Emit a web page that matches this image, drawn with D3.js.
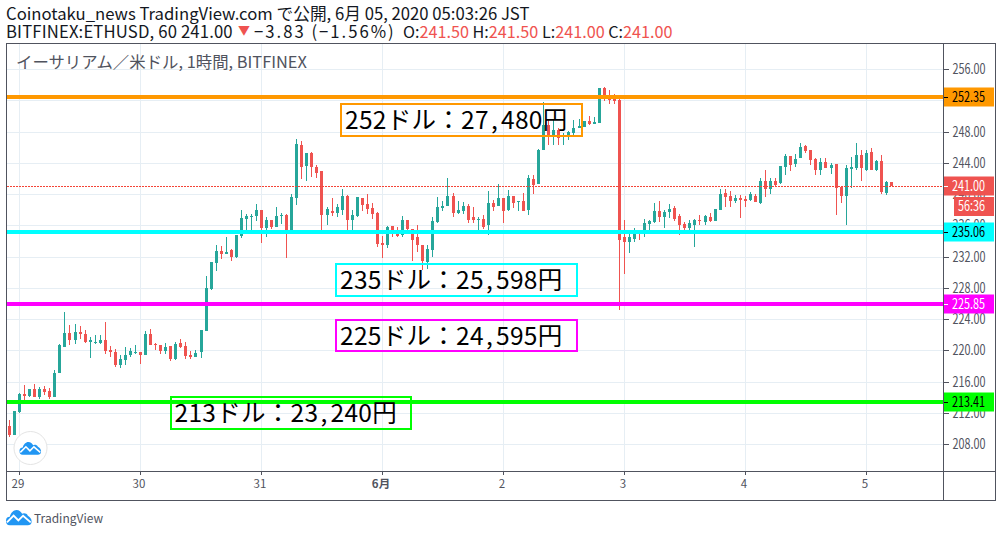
<!DOCTYPE html>
<html lang="ja"><head><meta charset="utf-8">
<script src="https://cdn.jsdelivr.net/npm/d3@7"></script>
<style>
html,body{margin:0;padding:0;background:#fff;overflow:hidden}
svg{display:block}
text{font-family:"Noto Sans CJK JP","Noto Sans",sans-serif}
</style></head><body><svg id="c" width="1002" height="537"></svg>
<script>
const opens=[210.30,209.14,212.09,214.40,214.14,215.04,214.01,215.04,214.78,214.01,
217.09,220.43,222.22,221.32,222.35,222.09,221.07,220.94,220.94,221.32,
220.04,219.78,218.12,218.76,219.40,219.65,219.78,219.40,222.09,220.81,
220.68,219.91,220.55,218.88,220.94,220.55,219.40,219.14,219.78,222.47,
227.86,231.19,232.73,232.35,232.86,231.96,234.65,236.83,237.09,237.22,
237.99,235.68,236.71,235.81,237.22,237.35,235.42,239.53,246.32,243.63,
245.30,243.50,242.99,237.35,237.86,237.60,237.99,239.78,236.71,237.22,
239.53,238.76,238.24,237.60,233.76,233.50,235.94,234.91,234.78,236.71,
235.55,234.53,233.50,231.32,232.86,236.45,238.24,238.50,239.78,237.60,
237.86,238.50,237.09,236.71,236.83,236.07,238.89,238.50,239.53,237.99,
239.78,239.01,239.14,237.99,241.96,241.32,245.68,248.89,247.60,248.24,
247.47,247.60,247.86,248.50,248.63,249.40,249.01,249.14,253.63,252.60,
252.35,252.09,234.53,233.88,234.27,235.30,234.91,236.19,236.45,237.86,
237.09,237.73,238.24,237.22,236.19,235.68,236.07,236.71,236.45,237.09,
236.58,237.99,240.17,239.78,239.14,239.53,239.40,239.27,239.78,238.89,
241.71,240.68,241.71,241.45,243.50,244.91,243.88,244.65,246.19,245.68,
244.53,243.12,244.14,243.37,243.88,240.94,239.78,243.24,243.37,245.04,
243.12,245.42,243.12,244.27,240.17,241.58];
const highs=[211.07,212.22,214.53,215.55,215.04,215.68,215.30,215.42,215.17,217.48,
220.81,224.91,223.24,223.37,223.12,222.60,221.71,221.96,221.96,223.63,
220.55,220.17,219.40,220.43,220.30,220.68,219.78,222.47,222.73,220.94,
220.68,220.94,220.55,221.07,221.45,221.07,219.91,220.04,222.60,229.53,
231.32,233.50,233.37,234.53,232.99,234.78,237.99,237.47,237.47,238.76,
237.99,237.09,236.71,238.37,237.60,237.47,240.04,247.09,246.83,245.30,
245.42,243.76,242.99,238.37,239.53,238.76,240.68,239.91,237.99,239.66,
239.53,240.04,238.89,237.73,234.65,235.94,235.94,235.81,237.22,236.71,
235.55,236.07,233.50,233.50,237.09,239.66,239.14,242.09,240.17,239.14,
239.01,238.76,238.37,237.09,237.35,240.42,239.27,241.32,239.53,240.55,
239.78,239.14,240.17,242.47,242.47,245.81,251.83,249.53,249.53,248.50,
247.86,248.11,249.53,249.65,249.40,250.04,249.91,253.63,253.76,253.37,
252.86,252.47,236.71,234.91,235.68,235.30,236.83,236.71,238.89,239.14,
237.99,238.76,238.50,237.47,236.45,236.71,236.83,237.35,237.35,237.60,
238.12,240.68,240.68,240.42,239.91,239.91,239.78,240.30,240.04,242.09,
243.12,242.09,242.09,243.63,245.17,244.91,245.17,246.58,246.32,245.68,
244.65,244.65,244.65,244.01,243.88,241.06,243.76,244.78,246.58,245.68,
245.68,245.93,244.40,245.04,241.71,241.58];
const lows=[208.89,209.14,211.96,213.63,214.01,214.01,213.76,214.27,213.76,214.01,
217.09,220.43,220.68,220.81,221.45,220.94,219.01,220.81,220.81,219.52,
219.14,217.86,217.73,218.12,219.14,219.52,218.25,219.40,220.68,220.04,
219.52,219.52,218.63,218.76,220.30,218.88,218.88,219.14,219.01,222.47,
227.73,230.17,231.71,232.35,231.45,231.83,234.40,234.91,235.30,236.58,
233.76,234.53,235.55,235.81,236.19,231.83,235.17,238.63,241.96,241.71,
242.22,242.09,235.04,236.07,237.22,237.09,237.35,235.42,235.42,237.09,
237.86,237.47,236.83,233.24,231.83,233.12,234.53,234.53,234.53,235.04,
231.45,232.60,230.30,230.42,231.96,236.32,237.86,238.50,237.09,237.47,
237.47,236.32,236.32,235.04,235.55,234.78,237.86,238.50,236.32,237.86,
238.24,237.86,237.86,237.35,240.04,241.32,245.68,246.32,246.32,246.32,
246.32,246.96,247.35,248.50,248.63,248.89,249.01,249.14,251.96,251.58,
251.58,225.17,229.78,232.47,233.88,234.14,234.53,234.91,236.32,236.45,
235.68,236.96,236.58,234.78,235.17,235.04,233.24,236.07,236.07,236.45,
236.58,237.99,238.37,238.37,238.89,236.96,238.37,239.14,239.01,238.76,
239.66,240.04,241.06,241.32,242.47,242.99,243.50,244.65,245.30,243.76,
242.47,242.47,243.37,242.60,237.35,238.89,236.07,240.81,243.12,241.71,
242.99,243.12,242.99,240.04,239.91,241.00];
const closes=[209.14,212.22,214.40,214.14,215.04,214.01,215.04,214.65,214.01,217.09,
220.68,222.22,221.32,222.35,222.09,221.07,221.32,221.07,221.32,219.91,
219.78,218.12,218.88,219.40,219.91,219.78,219.40,222.09,220.68,220.68,
219.91,220.43,218.88,220.81,220.43,219.27,219.14,219.65,222.60,227.99,
231.32,232.73,232.35,232.60,231.96,234.78,236.96,237.22,237.22,237.99,
235.68,236.71,235.81,237.22,237.35,235.42,239.66,246.45,243.50,245.30,
243.50,242.73,237.35,238.12,237.60,238.37,239.78,236.71,237.35,239.66,
238.63,238.12,237.47,233.63,233.50,235.81,235.04,234.65,236.71,235.55,
234.14,233.50,231.45,232.99,236.58,238.37,238.50,239.78,237.60,237.99,
238.50,236.71,236.71,236.83,235.81,238.89,238.37,239.53,237.86,239.78,
238.89,239.14,237.86,242.09,241.19,245.68,248.89,247.60,248.24,247.22,
247.60,247.99,248.50,248.76,249.40,249.01,249.27,253.63,252.47,252.09,
251.96,234.14,233.88,234.53,235.30,234.91,236.32,236.58,237.86,237.09,
237.73,238.12,236.83,236.07,235.68,236.32,236.71,236.58,237.22,236.58,
238.12,240.04,239.66,239.14,239.53,239.27,239.14,240.04,239.01,241.71,
240.68,241.71,241.19,243.63,244.91,243.76,244.53,246.06,245.55,244.40,
243.12,244.14,243.37,243.76,240.81,239.78,243.37,243.50,245.04,243.37,
245.30,243.12,244.27,240.30,241.58,241.00];

const priceTicks=[256,252,248,244,240,236,232,228,224,220,216,212,208];
const dayTicks=[2,26,50,74,98,122,146,170];
const dayLabels=["29","30","31","6月","2","3","4","5"];
const levelValues=[252.35,235.06,225.85,213.41];
const levelColors=["#ff9800","#00ffff","#ff00ff","#00ff00"];
const levelTextColors=["#000","#000","#fff","#000"];
const noteHeads=["252ドル：27","235ドル：25","225ドル：24","213ドル：23"];
const noteTails=["480円","598円","595円","240円"];
const lastPrice=241.00;

const TEAL="#26a69a",RED="#ef5350",GRID="#e6eef4",INK="#50535e";
const svg=d3.select("#c");
const L=7,R=943,T=44,B=471;
const y=d3.scaleLinear().domain([208,256]).range([444.2,69.2]);
const x=d3.scaleLinear().domain([0,175]).range([9.5,891.5]);
const px=i=>Math.floor(x(i));
const ry=v=>Math.round(y(v)-.35);
const crisp=g=>g.attr("shape-rendering","crispEdges");

// grid
const grid=svg.append("g").call(crisp);
grid.selectAll(".h").data(priceTicks).join("line").attr("x1",L).attr("x2",R)
 .attr("y1",d=>Math.round(y(d))+.5).attr("y2",d=>Math.round(y(d))+.5).attr("stroke",GRID);
grid.selectAll(".v").data(dayTicks).join("line").attr("y1",T).attr("y2",B)
 .attr("x1",d=>px(d)+.5).attr("x2",d=>px(d)+.5).attr("stroke",GRID);

// title inside chart
svg.append("text").attr("x",16).attr("y",67.5).attr("font-size",16.4).attr("fill",INK)
 .text("イーサリアム／米ドル, 1時間, BITFINEX");

// candles
const idx=d3.range(opens.length);
const col=i=>closes[i]>=opens[i]?TEAL:RED;
const cg=svg.append("g").call(crisp);
cg.selectAll(".w").data(idx).join("rect").attr("x",px).attr("width",1)
 .attr("y",i=>y(highs[i])).attr("height",i=>Math.max(1,y(lows[i])-y(highs[i]))).attr("fill",col);
cg.selectAll(".b").data(idx).join("rect").attr("x",i=>px(i)-1).attr("width",3)
 .attr("y",i=>y(Math.max(opens[i],closes[i])))
 .attr("height",i=>Math.max(1,Math.abs(opens[i]-closes[i])*(y(0)-y(1)))).attr("fill",col);

// last price line
svg.append("line").attr("x1",L).attr("x2",R).attr("y1",ry(lastPrice)+.5).attr("y2",ry(lastPrice)+.5)
 .attr("stroke","#f44336").attr("stroke-dasharray","2 1").attr("shape-rendering","crispEdges");

// levels
svg.append("g").call(crisp).selectAll("rect").data(levelValues).join("rect")
 .attr("x",L).attr("width",R-L).attr("height",4).attr("y",d=>ry(d)-2)
 .attr("fill",(d,i)=>levelColors[i]);

// note boxes
const noteBoxes=[[341,104,241,32],[336,264,241,32],[336,320,241,31],[170.5,397,240,32]];
const notes=svg.append("g");
noteBoxes.forEach((b,i)=>{
 notes.append("rect").attr("x",b[0]).attr("y",b[1]).attr("width",b[2]).attr("height",b[3])
  .attr("fill","none").attr("stroke",levelColors[i]).attr("stroke-width",2).attr("shape-rendering","crispEdges");
 const t=notes.append("text").attr("x",b[0]+4).attr("y",b[1]+25).attr("font-size",24.5).attr("letter-spacing",.3).attr("fill","#000");
 t.append("tspan").text(noteHeads[i]);
 t.append("tspan").attr("dx",2).text(",");
 t.append("tspan").attr("dx",3).text(noteTails[i]);
});

// axes
const ya=d3.axisRight(y).tickValues(priceTicks).tickFormat(d3.format(".2f")).tickSize(5).tickPadding(4);
const yg=svg.append("g").attr("transform",`translate(${R+.5},0)`).call(ya);
yg.select(".domain").remove();
yg.selectAll("line").attr("stroke",INK).attr("shape-rendering","crispEdges");
yg.selectAll("text").attr("fill",INK).attr("font-size",14)
 .attr("textLength",33).attr("lengthAdjust","spacingAndGlyphs");
const xa=d3.axisBottom(x).tickValues(dayTicks).tickFormat((d,i)=>dayLabels[i]).tickSize(4).tickPadding(5);
const xg=svg.append("g").attr("transform",`translate(0,${B})`).call(xa);
xg.select(".domain").remove();
xg.selectAll(".tick").attr("transform","translate(0,0)");
xg.selectAll("line").attr("stroke",INK).attr("x1",d=>px(d)+.5).attr("x2",d=>px(d)+.5).attr("shape-rendering","crispEdges");
xg.selectAll("text").attr("fill",INK).attr("font-size",11.5).attr("x",d=>px(d)-1)
 .attr("font-weight",(d,i)=>dayLabels[i]==="6月"?700:400);

// frame
const fr=svg.append("g").call(crisp).attr("stroke",INK).attr("fill","none");
fr.append("rect").attr("x",6.5).attr("y",43.5).attr("width",989).attr("height",457);
fr.append("line").attr("x1",6.5).attr("x2",995.5).attr("y1",B+.5).attr("y2",B+.5);
fr.append("line").attr("x1",R+.5).attr("x2",R+.5).attr("y1",43.5).attr("y2",500.5);

// price labels
const tag=(v,fill,tc)=>{
 const c=ry(v);
 svg.append("rect").attr("x",R+1).attr("width",50).attr("y",c-9.5).attr("height",19).attr("fill",fill);
 svg.append("line").attr("x1",R+1).attr("x2",R+5).attr("y1",c+.5).attr("y2",c+.5).attr("stroke",tc).attr("shape-rendering","crispEdges");
 svg.append("text").attr("x",R+9).attr("y",c+5).attr("font-size",14).attr("fill",tc)
  .attr("textLength",33).attr("lengthAdjust","spacingAndGlyphs").text(d3.format(".2f")(v));
};
tag(lastPrice,RED,"#fff");
svg.append("rect").attr("x",954).attr("y",197).attr("width",40).attr("height",19).attr("fill",RED);
svg.append("text").attr("x",958).attr("y",211).attr("font-size",14).attr("fill","#fff")
 .attr("textLength",27).attr("lengthAdjust","spacingAndGlyphs").text("56:36");
levelValues.forEach((v,i)=>tag(v,levelColors[i],levelTextColors[i]));

// header
const dark="#131722";
svg.append("text").attr("x",6).attr("y",20).attr("font-size",16.7).attr("fill",dark)
 .text("Coinotaku_news TradingView.com で公開, 6月 05, 2020 05:03:26 JST");
const h2=svg.append("text").attr("x",6).attr("y",37.5).attr("font-size",16.7).attr("fill",dark);
h2.append("tspan").attr("letter-spacing",.15).text("BITFINEX:ETHUSD, 60 241.00");
h2.append("tspan").attr("x",238).attr("fill",RED).attr("font-size",12).attr("dy",-3).text("▼");
h2.append("tspan").attr("x",254).attr("dy",3).attr("letter-spacing",2).text("−3.83 (−1.56%)");
const ohlc=[["O:","241.50"],[" H:","241.50"],[" L:","241.00"],[" C:","241.00"]];
ohlc.forEach((p,i)=>{
 const a=h2.append("tspan").attr("font-size",16.2).text(p[0]);
 if(i===0) a.attr("x",403);
 h2.append("tspan").attr("font-size",16.2).attr("fill",RED).text(p[1]);
});

// logos
const cloud="M0 11 C0 8 2 7 4 7 C5 3 8 0 11 0 C14 0 16 2 17 4 C18 3 22 3 23 6 C25 7 27 9 27 12 C27 15 25 16 23 16 L4 16 C1 16 0 14 0 11Z";
const wave="M1 13 L8 6 L13 11 L18 6 L26 13";
const logo=(sel,tx,ty,k)=>{
 const g=sel.append("g").attr("transform",`translate(${tx},${ty}) scale(${k})`);
 g.append("path").attr("d",cloud).attr("fill","#2196f3");
 g.append("path").attr("d",wave).attr("fill","none").attr("stroke","#fff").attr("stroke-width",2);
};
svg.append("circle").attr("cx",30.5).attr("cy",448).attr("r",16.5).attr("fill","#fff").attr("stroke","#e4e4e4").attr("stroke-width",1);
logo(svg,19.5,442,.8);
logo(svg,6,510,.95);
svg.append("text").attr("x",34).attr("y",523).attr("font-size",12).attr("fill",INK).text("TradingView");
</script></body></html>
